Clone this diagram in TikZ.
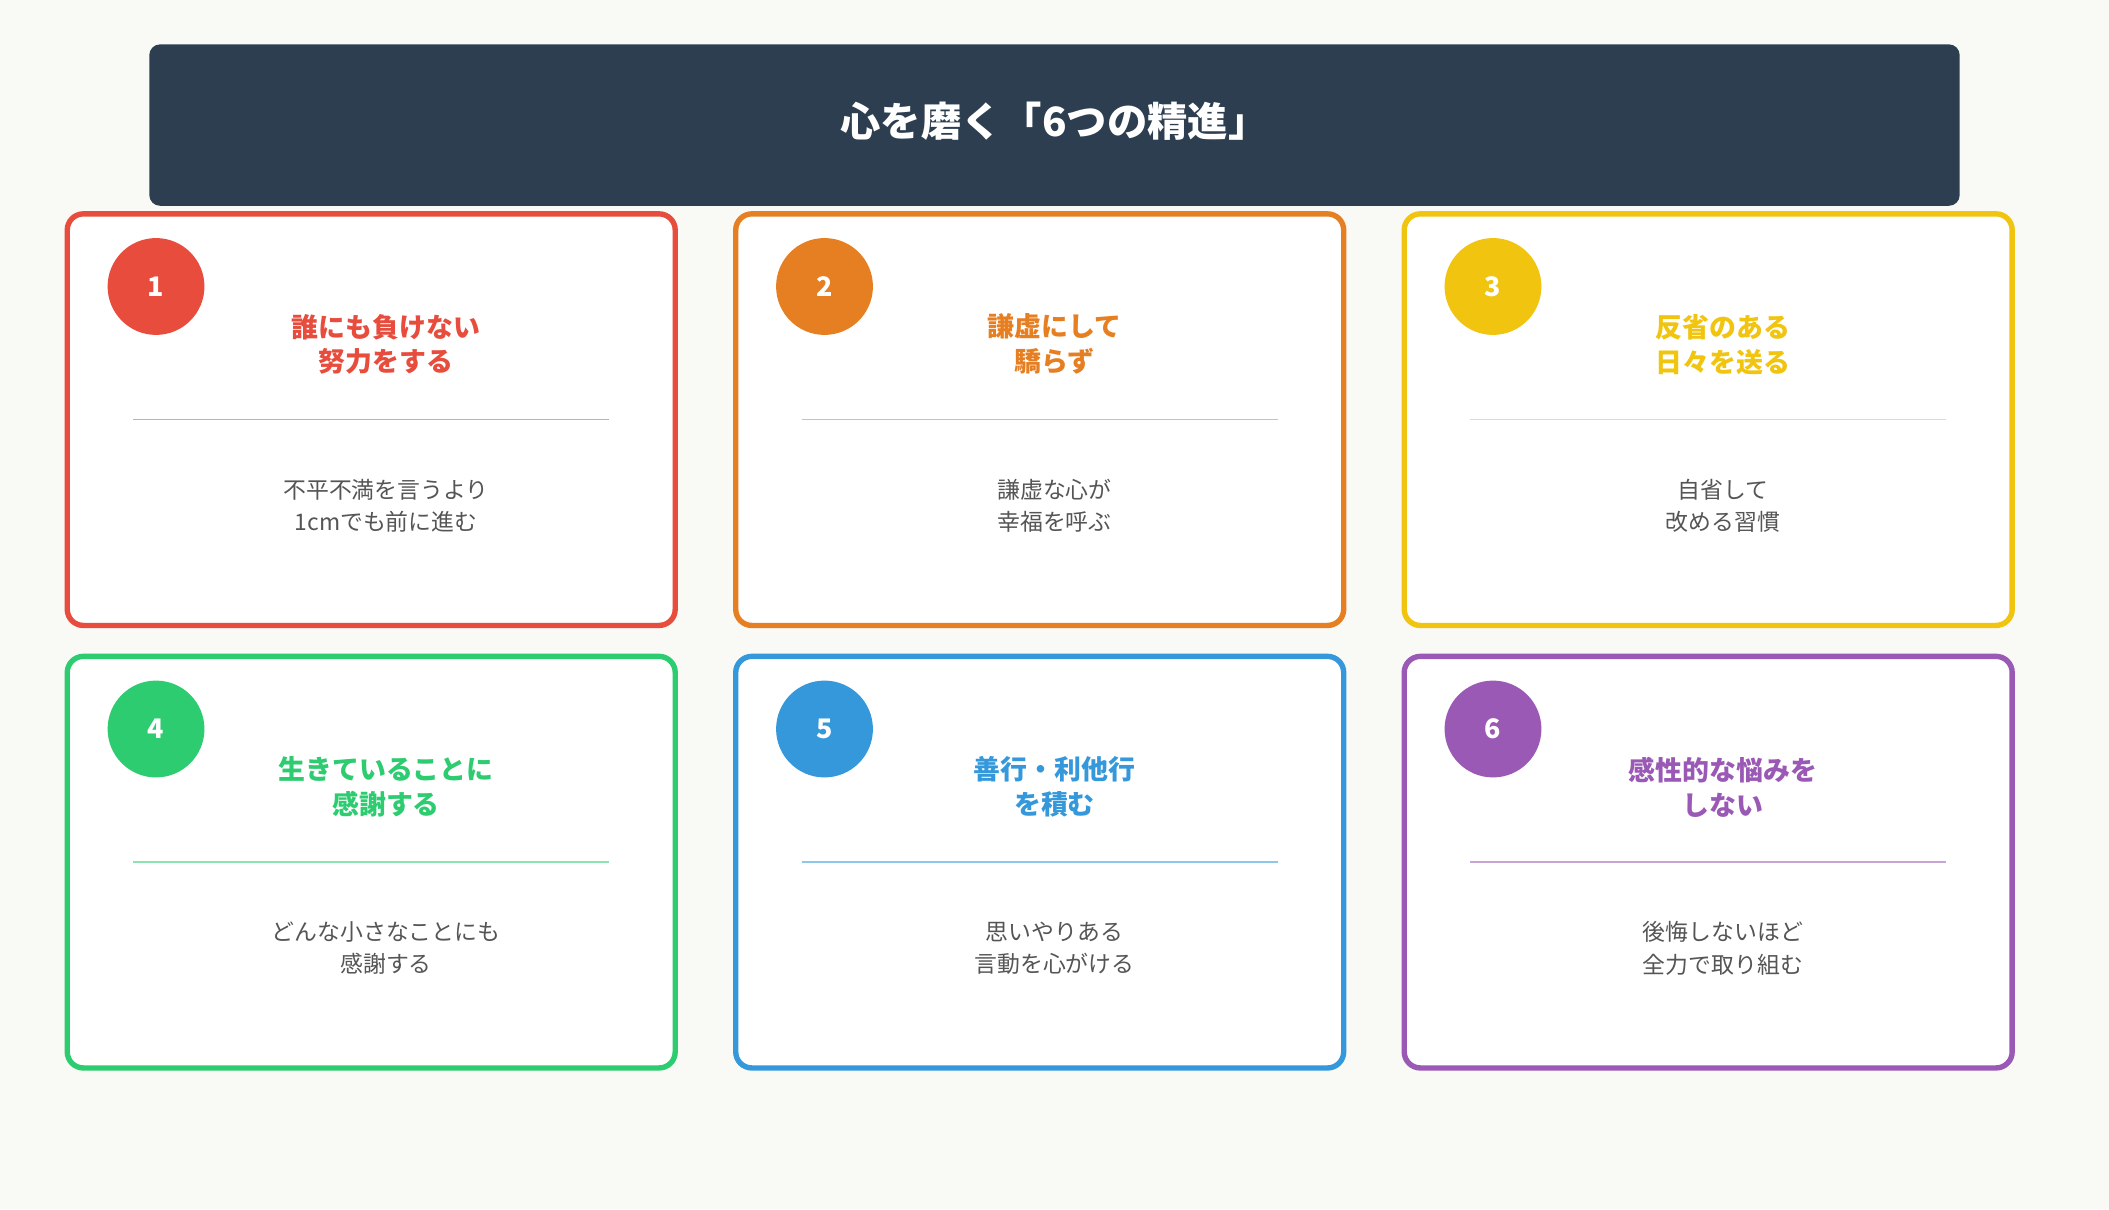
\documentclass[tikz,border=0pt]{standalone}
\usepackage{fontspec}
\setmainfont{Noto Sans CJK JP}
\usetikzlibrary{positioning}

\definecolor{bgcol}{HTML}{F9F9F6}
\definecolor{barcol}{HTML}{2C3E50}
\definecolor{bodycol}{HTML}{555555}
\definecolor{c1}{HTML}{E74C3C}
\definecolor{c2}{HTML}{E67E22}
\definecolor{c3}{HTML}{F1C40F}
\definecolor{c4}{HTML}{2ECC71}
\definecolor{c5}{HTML}{3498DB}
\definecolor{c6}{HTML}{9B59B6}

\tikzset{
  cardbox/.style={draw=#1, line width=4pt, rounded corners=12pt, fill=white},
  numdisc/.style={circle, fill=#1, minimum size=72pt, inner sep=0pt, text=white, font=\fontsize{20}{24}\selectfont\bfseries},
  headtext/.style={align=center, text=#1, font=\fontsize{20}{26}\selectfont\bfseries},
  bodytext/.style={align=center, text=bodycol, font=\fontsize{17}{24}\selectfont},
}

\begin{document}
\begin{tikzpicture}[x=1pt,y=-1pt]
  \fill[bgcol] (0,0) rectangle (1568,899);
  \useasboundingbox (0,0) rectangle (1568,899);

  \fill[barcol, rounded corners=8pt] (111,33) rectangle (1457,153);
  \node[text=white, font=\fontsize{30}{36}\selectfont\bfseries] (title) at (784,90) {心を磨く「6つの精進」};

  \foreach \n/\cx/\cy/\col/\head/\body in {
    1/50/159/c1/{誰にも負けない\\努力をする}/{不平不満を言うより\\1cmでも前に進む},
    2/547/159/c2/{謙虚にして\\驕らず}/{謙虚な心が\\幸福を呼ぶ},
    3/1044/159/c3/{反省のある\\日々を送る}/{自省して\\改める習慣},
    4/50/488/c4/{生きていることに\\感謝する}/{どんな小さなことにも\\感謝する},
    5/547/488/c5/{善行・利他行\\を積む}/{思いやりある\\言動を心がける},
    6/1044/488/c6/{感性的な悩みを\\しない}/{後悔しないほど\\全力で取り組む}} {
    \draw[cardbox=\col] (\cx,\cy) rectangle ++(452,306);
    \node[numdisc=\col] (num\n) at (\cx+66,\cy+54) {\n};
    \node[headtext=\col] (head\n) at (\cx+237,\cy+97) {\head};
    \coordinate (ruleL\n) at (\cx+49,\cy+153);
    \coordinate (ruleR\n) at (\cx+403,\cy+153);
    \draw[\col!55, line width=1.2pt] (ruleL\n) -- (ruleR\n);
    \node[bodytext] (body\n) at (\cx+237,\cy+217) {\body};
  }
\end{tikzpicture}
\end{document}
